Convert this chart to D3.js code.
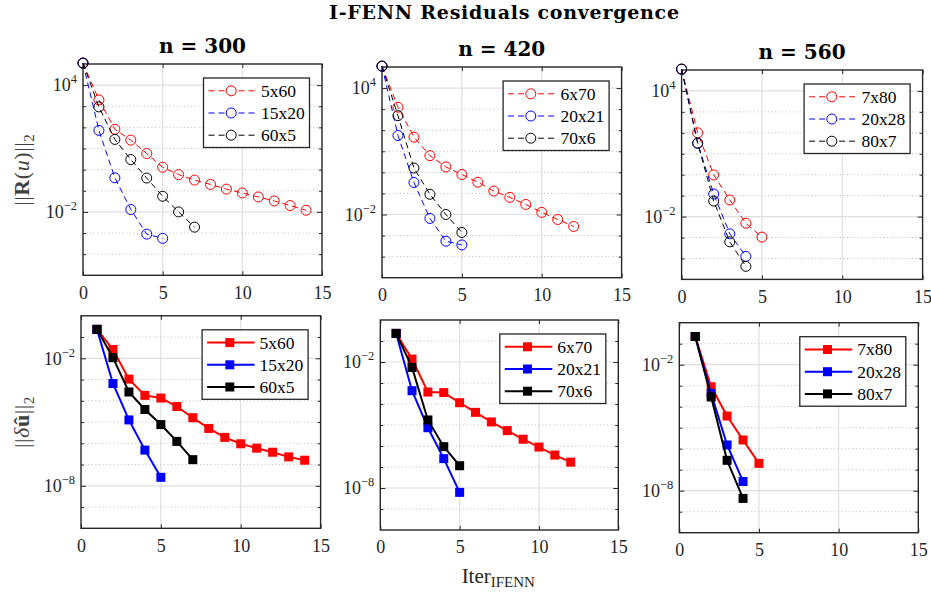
<!DOCTYPE html>
<html>
<head>
<meta charset="utf-8">
<script src="https://cdn.jsdelivr.net/npm/d3@7"></script>
<style>
  body { margin: 0; background: #fff; }
</style>
</head>
<body>
<svg id="chart" width="931" height="593"></svg>
<script>
////////////////////////////////////////////////////////////////////////////////////
// Data
var names300 = ["5x60", "15x20", "60x5"];
var names420 = ["6x70", "20x21", "70x6"];
var names560 = ["7x80", "20x28", "80x7"];

// ||R(u)||_2 , first value is iteration 0
var resid300_5x60  = [1.1e5, 2.0e3, 81, 25, 5.8, 1.3, 0.58, 0.32, 0.20, 0.12, 0.079, 0.051, 0.033, 0.020, 0.012];
var resid300_15x20 = [1.1e5, 72, 0.41, 0.013, 8.9e-4, 5.6e-4];
var resid300_60x5  = [1.1e5, 930, 27, 3.0, 0.40, 0.055, 0.010, 1.9e-3];
var resid420_6x70  = [1.1e5, 1230, 47, 6.2, 1.8, 0.79, 0.34, 0.13, 0.065, 0.030, 0.0126, 5.8e-3, 2.7e-3];
var resid420_20x21 = [1.1e5, 56, 0.33, 6.5e-3, 5.4e-4, 3.6e-4];
var resid420_70x6  = [1.1e5, 490, 1.6, 0.091, 0.010, 1.4e-3];
var resid560_7x80  = [1.1e5, 100, 0.98, 0.062, 4.8e-3, 1.05e-3];
var resid560_20x28 = [1.1e5, 32, 0.12, 1.5e-3, 1.26e-4];
var resid560_80x7  = [1.1e5, 32, 0.055, 6.2e-4, 4.2e-5];

// ||du||_2 , first value is iteration 1
var du300_5x60  = [0.23, 0.026, 1.05e-3, 1.8e-4, 1.35e-4, 5.4e-5, 1.6e-5, 5.0e-6, 1.9e-6, 9.5e-7, 5.9e-7, 3.8e-7, 2.3e-7, 1.6e-7];
var du300_15x20 = [0.23, 6.5e-4, 1.26e-5, 4.8e-7, 2.5e-8];
var du300_60x5  = [0.23, 0.0107, 2.6e-4, 3.9e-5, 7.6e-6, 1.23e-6, 1.7e-7];
var du420_6x70  = [0.23, 0.0138, 3.7e-4, 3.5e-4, 1.15e-4, 4.0e-5, 1.4e-5, 5.4e-6, 2.1e-6, 8.9e-7, 3.7e-7, 1.7e-7];
var du420_20x21 = [0.23, 4.3e-4, 7.4e-6, 2.5e-7, 6.2e-9];
var du420_70x6  = [0.23, 5.5e-3, 1.74e-5, 9.3e-7, 1.15e-7];
var du560_7x80  = [0.22, 8.9e-4, 3.6e-5, 2.6e-6, 2.0e-7];
var du560_20x28 = [0.22, 4.2e-4, 1.5e-6, 2.75e-8];
var du560_80x7  = [0.22, 2.9e-4, 2.8e-7, 4.3e-9];

var xTicks = [0, 5, 10, 15];
var residExp = [-5, 5], residMajorExp = [-2, 4];   // 10^-5 .. 10^5
var duExp = [-10, 0], duMajorExp = [-8, -2];       // 10^-10 .. 10^0

var panels = [
  {title: "n = 300", names: names300, series: [resid300_5x60, resid300_15x20, resid300_60x5], start: 0, top: true},
  {title: "n = 420", names: names420, series: [resid420_6x70, resid420_20x21, resid420_70x6], start: 0, top: true},
  {title: "n = 560", names: names560, series: [resid560_7x80, resid560_20x28, resid560_80x7], start: 0, top: true},
  {names: names300, series: [du300_5x60, du300_15x20, du300_60x5], start: 1, top: false},
  {names: names420, series: [du420_6x70, du420_20x21, du420_70x6], start: 1, top: false},
  {names: names560, series: [du560_7x80, du560_20x28, du560_80x7], start: 1, top: false}
];

////////////////////////////////////////////////////////////////////////////////////
// Layout / styles
// axes boxes [left, right, top, bottom] (the source image is slightly tilted)
var boxes = [[83, 322, 64, 275.3], [382, 621.6, 67, 277.7], [681.6, 922.6, 70, 279.4],
             [81, 320.6, 315.8, 528.3], [380.3, 618.3, 320, 530], [679.3, 918.3, 322.7, 532.7]];
var colors = ["#ff0000", "#0000ff", "#000000"];
var axisColor = "#262626";
var serif = "'Liberation Serif', 'Times New Roman', serif";
var boldSerif = "'DejaVu Serif', serif";

var svg = d3.select("#chart");

////////////////////////////////////////////////////////////////////////////////////
// One subplot
function drawPanel(p, box) {
  var l = box[0], r = box[1], t = box[2], b = box[3];
  var ex = p.top ? residExp : duExp;
  var majorExp = p.top ? residMajorExp : duMajorExp;

  var xScale = d3.scaleLinear().domain([0, 15]).range([l, r]);
  var yScale = d3.scaleLog().domain([Math.pow(10, ex[0]), Math.pow(10, ex[1])]).range([b, t]);

  var minorExp = d3.range(ex[0] + 1, ex[1]).filter(function(e) { return majorExp.indexOf(e) < 0; });
  var majorVals = majorExp.map(function(e) { return Math.pow(10, e); });
  var minorVals = minorExp.map(function(e) { return Math.pow(10, e); });

  var g = svg.append("g");

  // grid
  g.selectAll(".xgrid").data([5, 10]).enter().append("line")
   .attr("x1", function(d) { return xScale(d); })
   .attr("x2", function(d) { return xScale(d); })
   .attr("y1", t).attr("y2", b)
   .style("stroke", "#dfdfdf").style("stroke-width", 1.2);
  g.selectAll(".ygrid").data(majorVals).enter().append("line")
   .attr("x1", l).attr("x2", r)
   .attr("y1", function(d) { return yScale(d); })
   .attr("y2", function(d) { return yScale(d); })
   .style("stroke", "#dfdfdf").style("stroke-width", 1.2);
  g.selectAll(".yminor").data(minorVals).enter().append("line")
   .attr("x1", l).attr("x2", r)
   .attr("y1", function(d) { return yScale(d); })
   .attr("y2", function(d) { return yScale(d); })
   .style("stroke", "#bdbdbd").style("stroke-width", 1)
   .style("stroke-dasharray", "1,2.6");

  // axes (ticks point inwards like matlab)
  g.append("g").attr("transform", "translate(0," + b + ")")
   .call(d3.axisBottom(xScale).tickValues(xTicks).tickSize(-4).tickPadding(10.5).tickFormat(d3.format("d")));
  g.append("g").attr("transform", "translate(0," + t + ")")
   .call(d3.axisTop(xScale).tickValues(xTicks).tickSize(-4).tickFormat(""));
  var yLeft = g.append("g").attr("transform", "translate(" + l + ",0)")
   .call(d3.axisLeft(yScale).tickValues(majorVals).tickSize(-5).tickPadding(6).tickFormat(""));
  g.append("g").attr("transform", "translate(" + l + ",0)")
   .call(d3.axisLeft(yScale).tickValues(minorVals).tickSize(-3).tickFormat(""));
  g.append("g").attr("transform", "translate(" + r + ",0)")
   .call(d3.axisRight(yScale).tickValues(majorVals).tickSize(-5).tickFormat(""));
  g.append("g").attr("transform", "translate(" + r + ",0)")
   .call(d3.axisRight(yScale).tickValues(minorVals).tickSize(-3).tickFormat(""));

  g.selectAll(".domain").remove();
  g.selectAll(".tick line").style("stroke", axisColor).style("stroke-width", 1);
  g.selectAll(".tick text").style("fill", axisColor).style("font-family", serif).style("font-size", "18px");

  // 10^k labels
  yLeft.selectAll(".tick text").each(function(d) {
    var e = Math.round(Math.log10(d));
    var txt = d3.select(this);
    txt.append("tspan").text("10");
    txt.append("tspan").attr("dy", -8).style("font-size", "12.5px")
       .text(e < 0 ? "\u2212" + (-e) : e);
  });

  // box
  g.append("rect").attr("x", l).attr("y", t).attr("width", r - l).attr("height", b - t)
   .style("fill", "none").style("stroke", axisColor).style("stroke-width", 1.4);

  // lines + markers
  var line = d3.line()
               .x(function(d) { return xScale(d[0]); })
               .y(function(d) { return yScale(d[1]); });
  p.series.forEach(function(s, k) {
    var pts = s.map(function(v, i) { return [i + p.start, v]; });
    g.append("path").datum(pts)
     .attr("d", line)
     .style("fill", "none")
     .style("stroke", colors[k])
     .style("stroke-width", p.top ? 1 : 2)
     .style("stroke-dasharray", p.top ? "6,4" : null);
    if (p.top) {
      g.selectAll(".mk" + k).data(pts).enter().append("circle")
       .attr("cx", function(d) { return xScale(d[0]); })
       .attr("cy", function(d) { return yScale(d[1]); })
       .attr("r", 5)
       .style("fill", "none").style("stroke", colors[k]).style("stroke-width", 1);
    } else {
      g.selectAll(".mk" + k).data(pts).enter().append("rect")
       .attr("x", function(d) { return xScale(d[0]) - 4.5; })
       .attr("y", function(d) { return yScale(d[1]) - 4.5; })
       .attr("width", 9).attr("height", 9)
       .style("fill", colors[k]);
    }
  });

  // legend
  var leg = g.append("g").attr("transform", "translate(" + (r - 118.5) + "," + (t + 14) + ")");
  leg.append("rect").attr("width", 106).attr("height", 69.5)
     .style("fill", "white").style("stroke", axisColor).style("stroke-width", 1.3);
  p.names.forEach(function(name, k) {
    var y = 12.8 + k * 22.2;
    leg.append("line").attr("x1", 5).attr("x2", 52.5).attr("y1", y).attr("y2", y)
       .style("stroke", colors[k]).style("stroke-width", p.top ? 1 : 2)
       .style("stroke-dasharray", p.top ? "6,4" : null);
    if (p.top) {
      leg.append("circle").attr("cx", 27.7).attr("cy", y).attr("r", 5)
         .style("fill", "white").style("stroke", colors[k]);
    } else {
      leg.append("rect").attr("x", 23.2).attr("y", y - 4.5).attr("width", 9).attr("height", 9)
         .style("fill", colors[k]);
    }
    leg.append("text").attr("x", 57.5).attr("y", y).attr("dy", "0.34em")
       .style("font-family", serif).style("font-size", "17.5px").style("fill", "#000")
       .text(name);
  });

  // subplot title
  if (p.title) {
    g.append("text").attr("x", (l + r) / 2).attr("y", t - 11)
     .attr("text-anchor", "middle")
     .style("font-family", boldSerif).style("font-weight", "bold").style("font-size", "20px")
     .style("fill", "#000")
     .text(p.title);
  }
}; // end drawPanel

panels.forEach(function(p, i) { drawPanel(p, boxes[i]); });

////////////////////////////////////////////////////////////////////////////////////
// Figure labels
svg.append("text").attr("x", 329).attr("y", 18.5)
   .attr("textLength", 350)
   .style("font-family", boldSerif).style("font-weight", "bold").style("font-size", "19px")
   .text("I-FENN Residuals convergence");

// y labels
var ylab1 = svg.append("text")
   .attr("transform", "translate(29," + (boxes[0][2] + boxes[0][3]) / 2 + ") rotate(-90)")
   .attr("text-anchor", "middle")
   .style("font-family", serif).style("font-size", "22px").style("fill", "#404040")
   .style("letter-spacing", "0.6px");
ylab1.append("tspan").text("||");
ylab1.append("tspan").style("font-weight", "bold").text("R");
ylab1.append("tspan").text("(");
ylab1.append("tspan").style("font-style", "italic").text("u");
ylab1.append("tspan").text(")||");
ylab1.append("tspan").attr("dy", 5).style("font-size", "15px").text("2");

var ylab2 = svg.append("text")
   .attr("transform", "translate(29," + (boxes[3][2] + boxes[3][3]) / 2 + ") rotate(-90)")
   .attr("text-anchor", "middle")
   .style("font-family", serif).style("font-size", "22px").style("fill", "#404040")
   .style("letter-spacing", "0.6px");
ylab2.append("tspan").text("||");
ylab2.append("tspan").style("font-style", "italic").text("\u03B4");
ylab2.append("tspan").style("font-weight", "bold").text("\u00FB");
ylab2.append("tspan").text("||");
ylab2.append("tspan").attr("dy", 5).style("font-size", "15px").text("2");

// x label
var xlab = svg.append("text")
   .attr("x", (boxes[4][0] + boxes[4][1]) / 2 - 1).attr("y", 583)
   .attr("text-anchor", "middle")
   .style("font-family", serif).style("font-size", "21px").style("fill", "#262626");
xlab.append("tspan").text("Iter");
xlab.append("tspan").attr("dy", 4).style("font-size", "15px").text("IFENN");
</script>
</body>
</html>
